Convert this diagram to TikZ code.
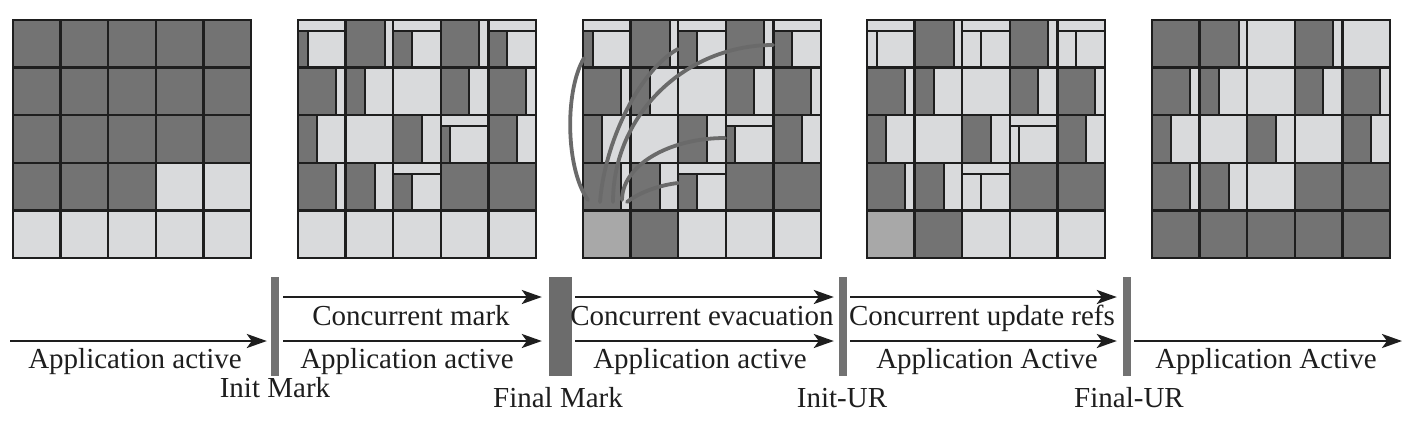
\documentclass[tikz,border=0pt]{standalone}
\usepackage{fontspec}
\setmainfont{Liberation Serif}
\usetikzlibrary{arrows.meta}
\definecolor{dk}{HTML}{737373}
\definecolor{lt}{HTML}{D9DADC}
\definecolor{md}{HTML}{A8A8A8}
\definecolor{ln}{HTML}{1E1E1E}
\definecolor{barc}{HTML}{727272}
\definecolor{curvec}{HTML}{6A6A6A}
\def\cs{47.6}
\newcommand\fcell[4]{\fill[#4] ({#1+(#2-1)*\cs},{20+(#3-1)*\cs}) rectangle ++(\cs,\cs);}
\newcommand\vcell[4]{%
  \fill[dk] ({#1+(#2-1)*\cs},{20+(#3-1)*\cs}) rectangle ++({#4*\cs},\cs);
  \draw[sub] ({#1+(#2-1+#4)*\cs},{20+(#3-1)*\cs}) -- ++(0,\cs);}
\newcommand\scell[5]{%
  \fill[#5] ({#1+(#2-1)*\cs},{20+(#3-1+0.23)*\cs}) rectangle ++({#4*\cs},{0.77*\cs});
  \draw[sub] ({#1+(#2-1)*\cs},{20+(#3-1+0.23)*\cs}) -- ++(\cs,0);
  \draw[sub] ({#1+(#2-1+#4)*\cs},{20+(#3-1+0.23)*\cs}) -- ++(0,{0.77*\cs});}
\newcommand\gridlines[1]{%
  \foreach \i in {1,...,4}{
    \draw[gl] ({#1+\i*\cs},20) -- ++(0,{5*\cs});
    \draw[gl] (#1,{20+\i*\cs}) -- ++({5*\cs},0);}
  \draw[gl] (#1,20) rectangle ++({5*\cs},{5*\cs});}
\newcommand\basepattern[1]{%
  \fill[lt] (#1,20) rectangle ++({5*\cs},{5*\cs});
  \foreach \ci/\ri in {4/4,5/4} {\fcell{#1}{\ci}{\ri}{dk}}
  \foreach \ci/\ri/\fr in {2/1/0.82,4/1/0.81,1/2/0.79,2/2/0.4,4/2/0.59,5/2/0.79,1/3/0.4,3/3/0.61,5/3/0.6,1/4/0.8,2/4/0.61} {\vcell{#1}{\ci}{\ri}{\fr}}}
\newcommand\strips[2]{%
  \foreach \ci/\ri/\fr in {1/1/0.21,3/1/0.4,5/1/0.39,4/3/0.2,3/4/0.4} {\scell{#1}{\ci}{\ri}{\fr}{#2}}}
\begin{document}
\begin{tikzpicture}[x=1pt,y=-1pt,
  gl/.style={draw=ln,line width=2.4pt},
  sub/.style={draw=ln,line width=2pt},
  curve/.style={draw=curvec,line width=3.8pt,line cap=round},
  arr/.style={draw=ln,line width=2.6pt,-{Stealth[length=20pt,width=14pt,inset=5pt]}},
  bar/.style={draw=none,fill=barc,minimum height=99pt,inner sep=0pt},
  lbl/.style={text=ln,inner sep=0pt,anchor=base,font=\fontsize{29pt}{34pt}\selectfont}]
\useasboundingbox (0,0) rectangle (1416,424);
\fill[white] (0,0) rectangle (1416,424);
% grid 1
\fill[lt] (13,20) rectangle ++({5*\cs},{5*\cs});
\fill[dk] (13,20) rectangle ++({5*\cs},{3*\cs});
\fill[dk] (13,{20+3*\cs}) rectangle ++({3*\cs},\cs);
\gridlines{13}
% grid 2
\basepattern{298}
\strips{298}{dk}
\gridlines{298}
% grid 3
\basepattern{583}
\strips{583}{dk}
\fcell{583}{1}{5}{md}
\fcell{583}{2}{5}{dk}
\gridlines{583}
\begin{scope}
\draw[curve] (588,200) .. controls (566,170) and (564,92) .. (584,58);
\draw[curve] (600,202) .. controls (605,140) and (640,70) .. (678,49);
\draw[curve] (613,202) .. controls (613,115) and (685,45) .. (773,45);
\draw[curve] (622,200) .. controls (622,166) and (668,138) .. (725,138);
\draw[curve] (627,202) .. controls (640,192) and (660,185) .. (678,183);
\end{scope}
% grid 4
\basepattern{867}
\strips{867}{lt}
\fcell{867}{1}{5}{md}
\fcell{867}{2}{5}{dk}
\gridlines{867}
% grid 5
\fill[lt] (1152,20) rectangle ++({5*\cs},{5*\cs});
\foreach \ci/\ri in {1/1,4/4,5/4,1/5,2/5,3/5,4/5,5/5} {\fcell{1152}{\ci}{\ri}{dk}}
\foreach \ci/\ri/\fr in {2/1/0.82,4/1/0.81,1/2/0.79,2/2/0.4,4/2/0.59,5/2/0.79,1/3/0.4,3/3/0.61,5/3/0.6,1/4/0.8,2/4/0.61} {\vcell{1152}{\ci}{\ri}{\fr}}
\gridlines{1152}
% timeline bars
\node[bar,minimum width=8pt] (b1) at (275,326.5) {};
\node[bar,minimum width=23pt,fill=barc!95!black] (b2) at (560.5,326.5) {};
\node[bar,minimum width=8pt] (b3) at (843,326.5) {};
\node[bar,minimum width=8pt] (b4) at (1127,326.5) {};
\coordinate (s0) at (10,341);
\coordinate (e5) at (1402,341);
% arrows
\draw[arr] (s0) -- ([xshift=-4pt,yshift=-14.5pt]b1.west);
\draw[arr] ([xshift=4pt,yshift=29.5pt]b1.east) -- ([xshift=-7pt,yshift=29.5pt]b2.west);
\draw[arr] ([xshift=4pt,yshift=-14.5pt]b1.east) -- ([xshift=-7pt,yshift=-14.5pt]b2.west);
\draw[arr] ([xshift=3pt,yshift=29.5pt]b2.east) -- ([xshift=-5pt,yshift=29.5pt]b3.west);
\draw[arr] ([xshift=3pt,yshift=-14.5pt]b2.east) -- ([xshift=-5pt,yshift=-14.5pt]b3.west);
\draw[arr] ([xshift=3pt,yshift=29.5pt]b3.east) -- ([xshift=-6pt,yshift=29.5pt]b4.west);
\draw[arr] ([xshift=3pt,yshift=-14.5pt]b3.east) -- ([xshift=-6pt,yshift=-14.5pt]b4.west);
\draw[arr] ([xshift=3pt,yshift=-14.5pt]b4.east) -- (e5);
% labels
\node[lbl] (l1) at (135,368) {Application active};
\node[lbl] (u2) at (411,325) {Concurrent mark};
\node[lbl] (l2) at (407,368) {Application active};
\node[lbl] (u3) at (702,325) {Concurrent evacuation};
\node[lbl] (l3) at (700,368) {Application active};
\node[lbl] (u4) at (982,325) {Concurrent update refs};
\node[lbl] (l4) at (987,368) {Application Active};
\node[lbl] (l5) at (1266,368) {Application Active};
\node[lbl] (p1) at (275,397) {Init Mark};
\node[lbl] (p2) at (558,407) {Final Mark};
\node[lbl] (p3) at (842,407) {Init-UR};
\node[lbl] (p4) at (1129,407) {Final-UR};
\end{tikzpicture}
\end{document}
